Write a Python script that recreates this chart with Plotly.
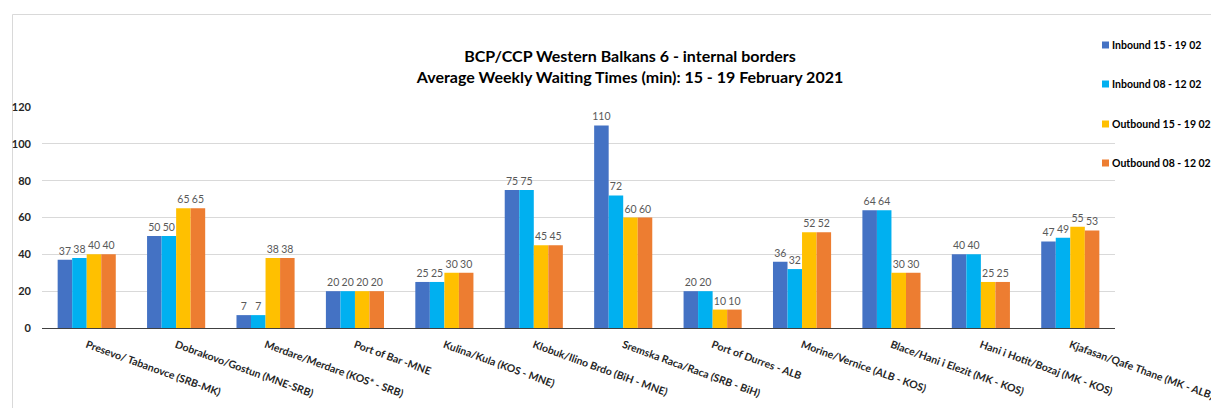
import plotly.graph_objects as go

categories = [
    "Presevo/ Tabanovce (SRB-MK)",
    "Dobrakovo/Gostun (MNE-SRB)",
    "Merdare/Merdare (KOS* - SRB)",
    "Port of Bar -MNE",
    "Kulina/Kula (KOS - MNE)",
    "Klobuk/Ilino Brdo (BiH - MNE)",
    "Sremska Raca/Raca (SRB - BiH)",
    "Port of Durres - ALB",
    "Morine/Vernice (ALB - KOS)",
    "Blace/Hani i Elezit (MK - KOS)",
    "Hani i Hotit/Bozaj (MK - KOS)",
    "Kjafasan/Qafe Thane (MK - ALB)",
]

inbound_15_19 = [37, 50, 7, 20, 25, 75, 110, 20, 36, 64, 40, 47]
inbound_08_12 = [38, 50, 7, 20, 25, 75, 72, 20, 32, 64, 40, 49]
outbound_15_19 = [40, 65, 38, 20, 30, 45, 60, 10, 52, 30, 25, 55]
outbound_08_12 = [40, 65, 38, 20, 30, 45, 60, 10, 52, 30, 25, 53]

series_names = ["Inbound 15 - 19 02", "Inbound 08 - 12 02",
                "Outbound 15 - 19 02", "Outbound 08 - 12 02"]
series_values = [inbound_15_19, inbound_08_12, outbound_15_19, outbound_08_12]
series_colors = ["#4472C4", "#00B0F0", "#FFC000", "#ED7D31"]

FONT = "Lato"

fig = go.Figure()
for name, vals, color in zip(series_names, series_values, series_colors):
    fig.add_trace(go.Bar(
        name=name, x=categories, y=vals,
        marker=dict(color=color, line=dict(width=0)),
        text=[str(v) for v in vals],
        textposition="outside",
        textfont=dict(family=FONT, size=10.5, color="#595959"),
        constraintext="none",
        cliponaxis=False,
        showlegend=False,
    ))

W, H = 1211, 408
L, R, T, B = 42, 1115, 107, 328
PW, PH = R - L, B - T

def px_x(x):
    return (x - L) / PW

def px_y(y):
    return (B - y) / PH

# legend drawn as coloured squares + bold text
legend_y = [45, 84, 124, 163]
annotations = []
shapes = [dict(
    type="rect", xref="paper", yref="paper",
    x0=px_x(12.5), x1=1.2,
    y0=-0.6, y1=px_y(14.5),
    line=dict(color="#D9D9D9", width=1),
    fillcolor="rgba(0,0,0,0)", layer="below",
)]
for name, color, yy in zip(series_names, series_colors, legend_y):
    shapes.append(dict(
        type="rect", xref="paper", yref="paper",
        x0=px_x(1102), x1=px_x(1109), y0=px_y(yy + 3.5), y1=px_y(yy - 3.5),
        line=dict(width=0), fillcolor=color,
    ))
    annotations.append(dict(
        xref="paper", yref="paper", x=px_x(1110), y=px_y(yy),
        xanchor="left", yanchor="middle", showarrow=False,
        text=f"<b>{name}</b>",
        font=dict(family=FONT, size=10.5, color="#000000"),
    ))

fig.update_layout(
    width=W, height=H,
    margin=dict(l=L, r=W - R, t=T, b=H - B, autoexpand=False),
    paper_bgcolor="white", plot_bgcolor="white",
    barmode="group", bargap=0.35, bargroupgap=0,
    font=dict(family=FONT, color="#262626"),
    title=dict(
        text="<b>BCP/CCP Western Balkans 6 - internal borders<br>Average Weekly Waiting Times (min): 15 - 19 February 2021</b>",
        x=630 / W, xanchor="center", xref="container",
        y=1 - 62 / H, yanchor="middle", yref="container",
        font=dict(family=FONT, size=16, color="#000000"),
    ),
    showlegend=False,
    annotations=annotations,
    shapes=shapes,
    xaxis=dict(
        tickangle=20,
        tickfont=dict(family=FONT, size=10.5, color="#262626"),
        tickvals=categories,
        ticktext=[f"<b>{c}</b>" for c in categories],
        showline=True, linecolor="#404040", linewidth=1,
        ticks="", showgrid=False, automargin=False,
        ticklabelstandoff=6,
    ),
    yaxis=dict(
        range=[0, 120], dtick=20,
        showgrid=True, gridcolor="#D9D9D9", gridwidth=1,
        zeroline=False,
        tickfont=dict(family=FONT, size=11, color="#262626"),
        tickprefix="<b>", ticksuffix="</b>",
        ticklabelstandoff=10, automargin=False,
    ),
)

fig.write_html("out.html", config={"displayModeBar": False},
               post_script="document.body.style.margin='0';")
